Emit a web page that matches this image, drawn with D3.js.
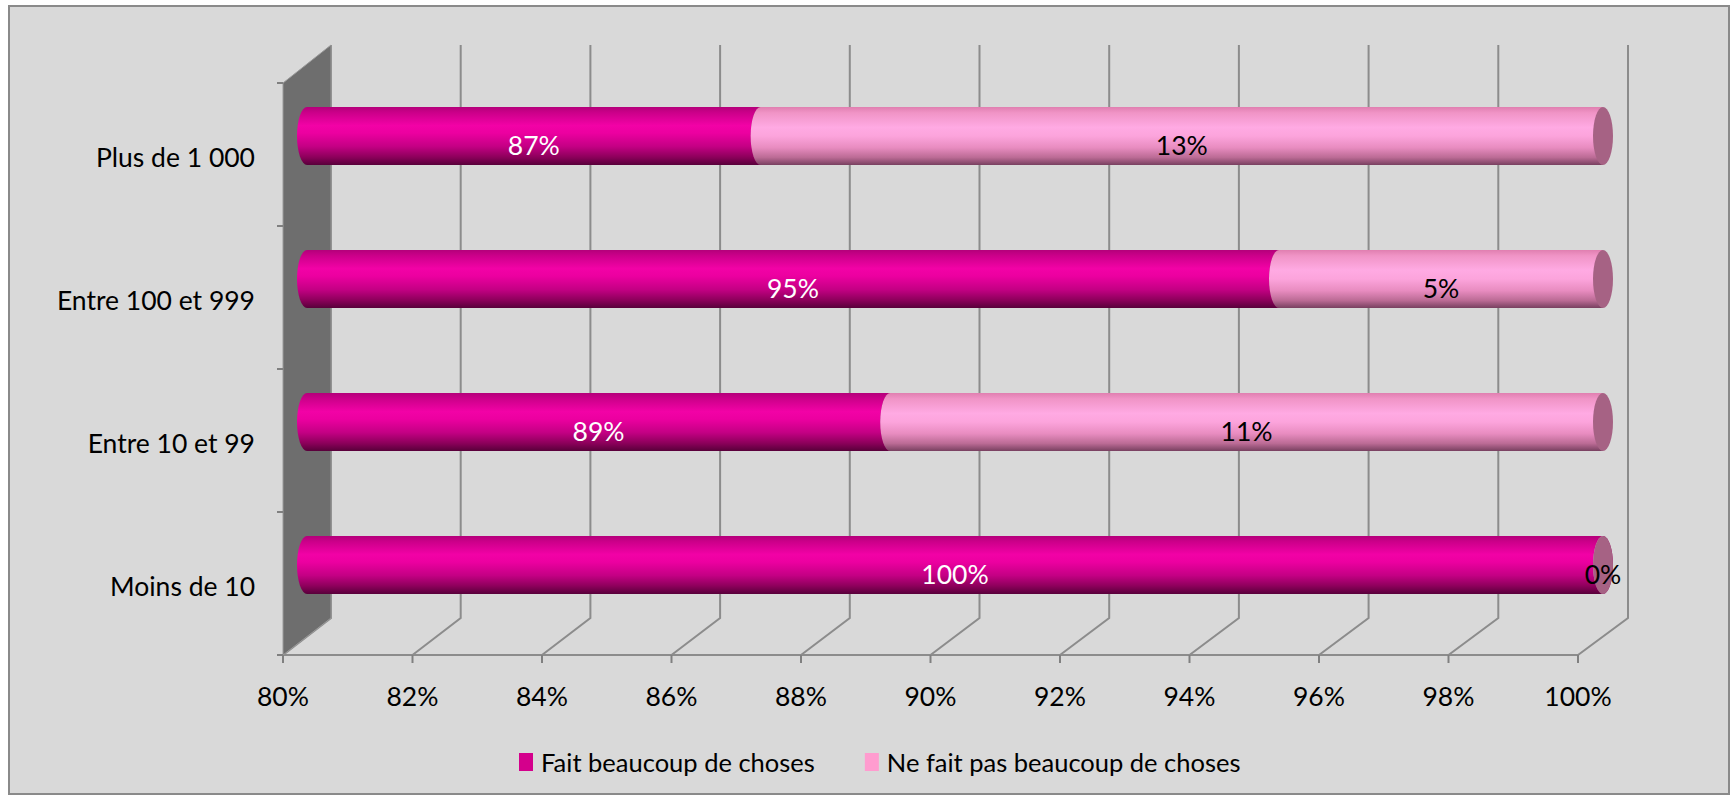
<!DOCTYPE html>
<html>
<head>
<meta charset="utf-8">
<script src="https://cdn.jsdelivr.net/npm/d3@7"></script>
<style>
  body { margin: 0; background: #ffffff; }
  svg text { font-family: Lato, "Open Sans", sans-serif; }
</style>
</head>
<body>
<svg id="chart" width="1731" height="798"></svg>
<script>
// Company size classes (top to bottom) and the two answer shares, in percent
const categories = ["Plus de 1 000", "Entre 100 et 999", "Entre 10 et 99", "Moins de 10"];
const seriesKeys = ["fait", "pas"];
const seriesNames = ["Fait beaucoup de choses", "Ne fait pas beaucoup de choses"];
const faitBeaucoup = [87, 95, 89, 100];
const neFaitPas = [13, 5, 11, 0];
const xTickValues = [80, 82, 84, 86, 88, 90, 92, 94, 96, 98, 100];

const svg = d3.select("#chart");

// chart area frame
svg.append("rect")
  .attr("x", 9).attr("y", 6).attr("width", 1720).attr("height", 788)
  .attr("fill", "#d9d9d9").attr("stroke", "#8a8a8a").attr("stroke-width", 2);

// 3D box: front plane and back plane (shifted up-right by the depth)
const depth = { dx: 48, dy: -37 };
const front = { left: 283, right: 1578, top: 83, bottom: 655 };

const xFront = d3.scaleLinear().domain([80, 100]).range([front.left, front.right]).clamp(true);
const xBack = d3.scaleLinear().domain([80, 100]).range([front.left + 48, front.right + 50]).clamp(true);
const xMid = d3.scaleLinear().domain([80, 100])
  .range([(xFront.range()[0] + xBack.range()[0]) / 2, (xFront.range()[1] + xBack.range()[1]) / 2]).clamp(true);

const yFront = d3.scaleBand().domain(categories).range([front.top, front.bottom]);
const yMid = d3.scaleBand().domain(categories)
  .range([front.top + depth.dy / 2, front.bottom + depth.dy / 2]);

const backTop = front.top + depth.dy - 1;
const backBottom = front.bottom + depth.dy;

// gridlines on the back wall and floor
const grid = svg.append("g").attr("fill", "none").attr("stroke", "#8c8c8c").attr("stroke-width", 2);
xTickValues.forEach(t => {
  grid.append("path")
    .attr("d", `M${xBack(t)},${backTop} L${xBack(t)},${backBottom} L${xFront(t)},${front.bottom}`);
});
// front floor edge
grid.append("line")
  .attr("x1", front.left).attr("x2", front.right)
  .attr("y1", front.bottom).attr("y2", front.bottom);

// left side wall
svg.append("path")
  .attr("d", `M${front.left},${front.top} L${front.left + depth.dx},${backTop} L${front.left + depth.dx},${backBottom} L${front.left},${front.bottom} Z`)
  .attr("fill", "#6e6e6e")
  .attr("stroke", "#9a9a9a").attr("stroke-width", 1);

// axis ticks
const ticks = svg.append("g").attr("stroke", "#808080").attr("stroke-width", 2);
xTickValues.forEach(t => {
  ticks.append("line").attr("x1", xFront(t)).attr("x2", xFront(t))
    .attr("y1", front.bottom).attr("y2", front.bottom + 8);
});
const catEdges = categories.map(c => yFront(c)).concat([front.bottom]);
catEdges.forEach(y => {
  ticks.append("line").attr("x1", front.left - 6).attr("x2", front.left)
    .attr("y1", y).attr("y2", y);
});

// x tick labels
svg.append("g").selectAll("text").data(xTickValues).join("text")
  .attr("x", d => xFront(d)).attr("y", 706)
  .attr("text-anchor", "middle").attr("font-size", 26.5).attr("fill", "#000")
  .text(d => d + "%");

// category labels
svg.append("g").selectAll("text").data(categories).join("text")
  .attr("x", front.left - 28)
  .attr("y", d => yFront(d) + yFront.bandwidth() / 2 + 12)
  .attr("text-anchor", "end").attr("font-size", 26.5).attr("fill", "#000")
  .text(d => d);

// cylinder shading
const defs = svg.append("defs");
function cylGradient(id, stops) {
  const g = defs.append("linearGradient").attr("id", id)
    .attr("x1", 0).attr("y1", 0).attr("x2", 0).attr("y2", 1);
  stops.forEach(([o, c]) => g.append("stop").attr("offset", o).attr("stop-color", c));
}
cylGradient("grad-fait", [
  [0, "#b4007a"], [0.1, "#cc008a"], [0.32, "#f202a6"], [0.45, "#ec00a0"],
  [0.68, "#c40084"], [0.86, "#8e005c"], [1, "#58003a"]
]);
cylGradient("grad-pas", [
  [0, "#e07fb0"], [0.1, "#f094c6"], [0.35, "#ffaae3"], [0.5, "#fca4dc"],
  [0.7, "#e88cc0"], [0.87, "#bb6b95"], [1, "#784060"]
]);
const seriesFill = { fait: "url(#grad-fait)", pas: "url(#grad-pas)" };
const capFill = { fait: "#9c0064", pas: "#a66284" };
const labelFill = { fait: "#ffffff", pas: "#000000" };

// stacked shares
const rows = categories.map((c, i) => ({ cat: c, fait: faitBeaucoup[i], pas: neFaitPas[i] }));
const stacked = d3.stack().keys(seriesKeys)(rows);

const barH = 58, rx = 10;
const bars = svg.append("g");
stacked.forEach(layer => {
  const key = layer.key;
  layer.forEach(seg => {
    const cy = yMid(seg.data.cat) + yMid.bandwidth() / 2;
    const xa = xMid(seg[0]), xb = xMid(seg[1]);
    const top = cy - barH / 2, bot = cy + barH / 2;
    const g = bars.append("g");
    g.append("path")
      .attr("d", `M${xa},${top} L${xb},${top} L${xb},${bot} L${xa},${bot} A${rx},${barH / 2} 0 0 1 ${xa},${top} Z`)
      .attr("fill", seriesFill[key]);
    g.append("ellipse")
      .attr("cx", xb).attr("cy", cy).attr("rx", rx).attr("ry", barH / 2)
      .attr("fill", capFill[key]);
  });
});

// value labels, centred on the visible part of each segment
const labels = svg.append("g");
stacked.forEach(layer => {
  layer.forEach(seg => {
    const cy = yMid(seg.data.cat) + yMid.bandwidth() / 2;
    const xa = xMid(seg[0]), xb = xMid(seg[1]);
    labels.append("text")
      .attr("x", (xa + xb) / 2).attr("y", cy + 18.5)
      .attr("text-anchor", "middle").attr("font-size", 26.5)
      .attr("fill", labelFill[layer.key])
      .text((seg[1] - seg[0]) + "%");
  });
});

// legend
const legendColors = { fait: "#d4008c", pas: "#ff9ccf" };
const legend = svg.append("g").attr("transform", "translate(519,0)");
let lx = 0;
seriesKeys.forEach((k, i) => {
  legend.append("rect").attr("x", lx).attr("y", 753).attr("width", 14).attr("height", 18)
    .attr("fill", legendColors[k]);
  const t = legend.append("text")
    .attr("x", lx + 22).attr("y", 772)
    .attr("font-size", 25.5).attr("fill", "#000")
    .text(seriesNames[i]);
  lx += 22 + t.node().getComputedTextLength() + 50;
});
</script>
</body>
</html>
